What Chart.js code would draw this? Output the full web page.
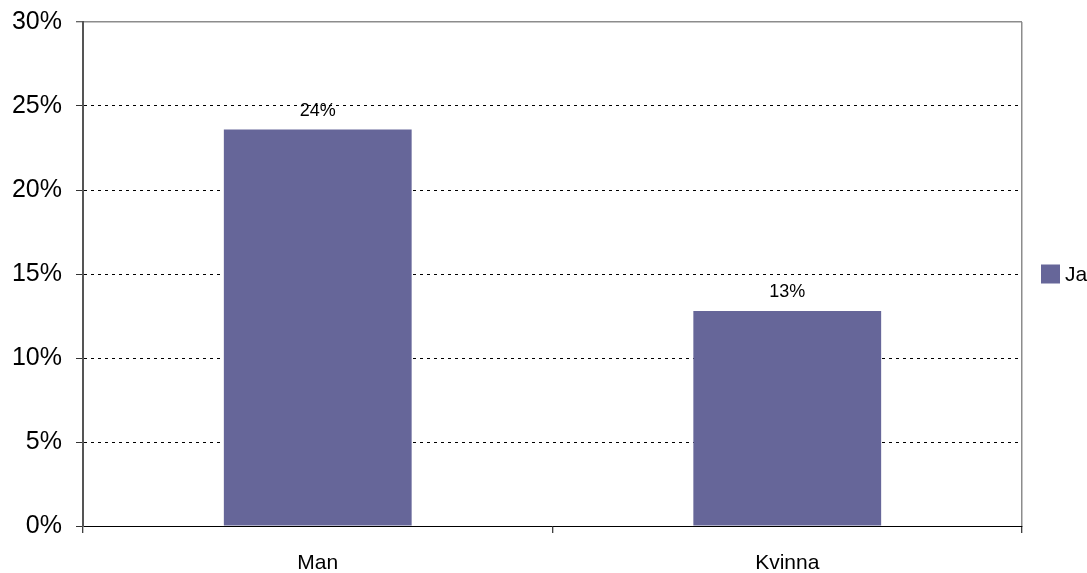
<!DOCTYPE html>
<html>
<head>
<meta charset="utf-8">
<script src="https://cdn.jsdelivr.net/npm/chart.js@4"></script>
<style>
  html, body { margin: 0; padding: 0; background: #fff; }
  #wrap { width: 1087px; height: 573px; position: relative; }
</style>
</head>
<body>
<div id="wrap"><canvas id="c"></canvas></div>
<script>
const categories = ['Man', 'Kvinna'];
const seriesName = 'Ja';
const seriesValues = [23.6, 12.8];
const dataLabels = ['24%', '13%'];
const yTickMin = 0;
const yTickMax = 30;
const yTickStep = 5;

const FONT = "'Liberation Sans', Arial, Helvetica, sans-serif";
const BAR_COLOR = '#666699';

const dataLabelPlugin = {
  id: 'dataLabels',
  afterDatasetsDraw(chart) {
    const ctx = chart.ctx;
    const meta = chart.getDatasetMeta(0);
    ctx.save();
    ctx.font = '18px ' + FONT;
    ctx.fillStyle = '#000';
    ctx.textAlign = 'center';
    ctx.textBaseline = 'alphabetic';
    meta.data.forEach((bar, i) => {
      ctx.fillText(dataLabels[i], bar.x, bar.y - 14);
    });
    ctx.restore();
  }
};

const legendPlugin = {
  id: 'sideLegend',
  afterDraw(chart) {
    const ctx = chart.ctx;
    const area = chart.chartArea;
    const ds = chart.data.datasets[0];
    const cy = (area.top + area.bottom) / 2;
    const bx = area.right + 19;
    ctx.save();
    ctx.fillStyle = ds.backgroundColor;
    ctx.fillRect(bx, cy - 9.5, 19, 19);
    ctx.fillStyle = '#000';
    ctx.font = '21px ' + FONT;
    ctx.textAlign = 'left';
    ctx.textBaseline = 'middle';
    ctx.fillText(ds.label, bx + 24, cy + 1);
    ctx.restore();
  }
};

new Chart(document.getElementById('c'), {
  type: 'bar',
  data: {
    labels: categories,
    datasets: [{
      label: seriesName,
      data: seriesValues,
      backgroundColor: BAR_COLOR,
      borderWidth: 0,
      barPercentage: 0.8,
      categoryPercentage: 0.5
    }]
  },
  options: {
    responsive: true,
    maintainAspectRatio: false,
    animation: false,
    devicePixelRatio: 1,
    layout: { padding: { top: 22, right: 65, left: 0, bottom: 0 } },
    plugins: {
      legend: { display: false },
      tooltip: { enabled: false },
      title: { display: false }
    },
    scales: {
      x: {
        type: 'category',
        offset: true,
        afterFit(scale) { scale.height = 47; scale.paddingLeft = 0; scale.paddingRight = 0; },
        grid: {
          offset: true,
          drawOnChartArea: true,
          color: (c) => c.type === 'tick' ? 'rgba(0,0,0,0)' : '#8c8c8c',
          lineWidth: 1.5,
          tickColor: '#000',
          tickWidth: 1,
          tickLength: 7
        },
        border: { display: true, color: '#000', width: 1 },
        ticks: {
          color: '#000',
          font: { family: FONT, size: 21 },
          padding: 18,
          maxRotation: 0
        }
      },
      y: {
        min: yTickMin,
        max: yTickMax,
        afterFit(scale) { scale.width = 83; scale.paddingTop = 0; scale.paddingBottom = 0; },
        grid: {
          color: (c) => {
            if (c.type !== 'tick') return '#000';
            if (c.tick.value === yTickMax) return '#8c8c8c';
            if (c.tick.value === yTickMin) return 'rgba(0,0,0,0)';
            return '#000';
          },
          lineWidth: (c) => (c.type === 'tick' && c.tick.value === yTickMax) ? 1.5 : 1,
          tickColor: '#333',
          tickWidth: 1,
          tickLength: 7
        },
        border: {
          display: true,
          color: '#555',
          width: 2,
          dash: (c) => (c.type === 'tick' && c.tick.value === yTickMax) ? [] : [3, 4]
        },
        ticks: {
          stepSize: yTickStep,
          color: '#000',
          font: { family: FONT, size: 25 },
          padding: 14,
          callback: (v) => v + '%'
        }
      }
    }
  },
  plugins: [dataLabelPlugin, legendPlugin]
});
</script>
</body>
</html>
